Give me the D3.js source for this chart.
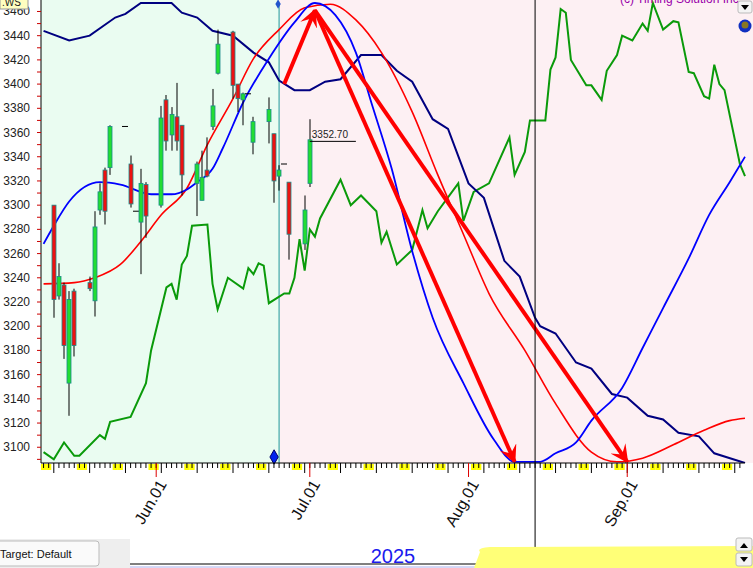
<!DOCTYPE html>
<html><head><meta charset="utf-8">
<script src="https://cdn.jsdelivr.net/npm/d3@7"></script>
<style>body{margin:0;background:#fff;overflow:hidden}svg{display:block;font-family:"Liberation Sans",Arial,sans-serif}</style>
</head><body><div id="paper"></div>
<script>
// candles: date, open, high, low, close
const candleDates = ["05-12","05-13","05-14","05-15","05-16","05-19","05-20","05-21","05-22","05-23","05-26","05-27","05-28","05-29","05-30",
  "06-02","06-03","06-04","06-05","06-06","06-09","06-10","06-11","06-12","06-13","06-16","06-17","06-18","06-19","06-20",
  "06-23","06-24","06-25","06-26","06-27","06-30","07-01"]
const opens  = [3300,3225,3234,3153,3229,3236,3221,3296,3329,3331,3365,3334,3295,3286,3317,3300,3387,3358,3373,3366,3318,3304,3329,3365,3409,3443,3400,3387,3392,3352,3369,3359,3324,3334,3319,3268,3318]
const highs  = [3300,3252,3236,3229,3231,3241,3295,3318,3331,3366,3365,3341,3295,3330,3319,3382,3391,3381,3401,3366,3336,3345,3356,3396,3445,3444,3400,3393,3392,3373,3389,3359,3333,3334,3319,3308,3371]
const lows   = [3207,3222,3173,3126,3175,3229,3208,3292,3284,3325,3365,3298,3295,3243,3273,3298,3345,3345,3345,3308,3291,3304,3323,3362,3408,3388,3377,3366,3392,3342,3351,3302,3312,3334,3255,3263,3315]
const closes = [3222,3241,3184,3222,3184,3231,3282,3311,3295,3365,3365,3301,3295,3318,3291,3372,3353,3375,3353,3325,3334,3323,3324,3382,3433,3399,3388,3392,3392,3369,3379,3320,3329,3334,3276,3296,3354]

// smooth blue curve
const blueDates = ["05-10","05-12","05-15","05-21","05-25","05-31","06-04","06-07","06-09","06-12","06-14","06-18","06-23","06-28","07-02","07-06","07-10","07-13","07-17","07-21","07-25","07-31","08-06","08-10","08-15","08-18","08-22","08-25","08-31","09-04","09-08","09-13","09-17","09-21","09-24"]
const blueVals  = [3268,3283,3303,3319,3317,3309,3309,3313,3319,3330,3347,3385,3421,3451,3467,3457,3426,3385,3330,3262,3207,3153,3106,3088,3088,3095,3104,3122,3149,3182,3215,3256,3292,3319,3340]
// smooth red curve
const redDates = ["05-10","05-16","05-20","05-25","05-29","06-02","06-07","06-11","06-16","06-20","06-25","06-30","07-05","07-10","07-15","07-21","07-26","07-31","08-05","08-12","08-18","08-25","08-30","09-04","09-10","09-16","09-21","09-24"]
const redVals  = [3235,3236,3240,3251,3270,3292,3314,3350,3388,3421,3445,3463,3466,3453,3426,3377,3325,3276,3227,3180,3136,3096,3088,3091,3102,3114,3122,3124]
// navy line
const navyDates = ["05-10","05-15","05-19","05-24","05-26","05-29","06-04","06-06","06-09","06-12","06-16","06-20","06-23","06-25","06-28","07-01","07-04","07-07","07-11","07-15","07-18","07-21","07-25","07-28","08-01","08-04","08-08","08-11","08-14","08-15","08-18","08-22","08-25","08-29","09-01","09-05","09-08","09-11","09-15","09-18","09-24"]
const navyVals  = [3444,3436,3440,3455,3458,3467,3467,3459,3455,3444,3440,3426,3418,3403,3395,3395,3402,3404,3424,3424,3411,3402,3371,3363,3318,3306,3254,3241,3207,3200,3194,3170,3165,3144,3141,3126,3123,3112,3109,3095,3087]
// green line
const greenDates = ["05-10","05-12","05-14","05-16","05-17","05-21","05-22","05-23","05-27","05-30","05-31","06-03","06-04","06-05","06-06","06-07","06-08","06-11","06-12","06-13","06-15","06-18","06-19","06-20","06-21","06-22","06-23","06-26","06-27","06-28","06-29","06-30","07-01","07-02","07-03","07-07","07-09","07-11","07-14","07-15","07-16","07-18","07-21","07-23","07-24","07-26","07-30","07-31","08-02","08-05","08-09","08-10","08-12","08-13","08-16","08-17","08-18","08-19","08-20","08-21","08-24","08-25","08-27","08-28","08-30","08-31","09-02","09-04","09-05","09-06","09-08","09-10","09-11","09-13","09-14","09-16","09-17","09-18","09-19","09-20","09-23","09-24"]
const greenVals  = [3096,3090,3104,3093,3093,3110,3107,3121,3125,3153,3180,3232,3235,3222,3251,3258,3283,3284,3235,3214,3240,3231,3248,3243,3252,3250,3219,3227,3227,3240,3272,3246,3280,3274,3289,3321,3300,3308,3295,3269,3278,3251,3263,3296,3281,3295,3318,3287,3311,3318,3356,3325,3344,3370,3370,3412,3422,3462,3459,3420,3399,3399,3387,3411,3424,3440,3436,3450,3444,3467,3445,3452,3451,3410,3409,3390,3388,3416,3400,3395,3334,3324]

// arrows: from -> to
const arrows = [["06-26",3400,"07-02",3461],["07-02",3461,"08-10",3088],["07-02",3461,"09-01",3088]]
const yTicks = d3.range(3100, 3461, 20)
const monthTicks = ["06-01","07-01","08-01","09-01"]
const monthLabels = ["Jun.01","Jul.01","Aug.01","Sep.01"]

const pd = s => new Date("2025-" + s + "T12:00:00")
const W = 753, H = 568
const L = 41, R = 745, T = 0, B = 463

const svg = d3.select("#paper").append("svg").attr("width", W).attr("height", H)
const x = d3.scaleTime().domain([new Date("2025-05-10T00:00:00"), new Date("2025-09-24T12:00:00")]).range([L, R])
const y = d3.scaleLinear().domain([3087, 3467]).range([B, 3])

// backgrounds
const sepX = x(pd("06-25"))
svg.append("rect").attr("x", L).attr("y", 0).attr("width", sepX - L).attr("height", B).attr("fill", "#eafcf1")
svg.append("rect").attr("x", sepX).attr("y", 0).attr("width", W - sepX).attr("height", B).attr("fill", "#fdf0f3")

svg.append("clipPath").attr("id", "clip").append("rect").attr("x", L).attr("y", 0).attr("width", W - L).attr("height", B)
const g = svg.append("g").attr("clip-path", "url(#clip)")

// separator
g.append("line").attr("x1", sepX).attr("x2", sepX).attr("y1", 4).attr("y2", B).attr("stroke", "#1a9a9a").attr("stroke-width", 1)

function drawLine(dates, vals, color, w, curve) {
  g.append("path").datum(dates.map((d, i) => [x(pd(d)), y(vals[i])]))
    .attr("d", d3.line().curve(curve)).attr("fill", "none").attr("stroke", color).attr("stroke-width", w)
}
drawLine(greenDates, greenVals, "#0a9a0a", 2, d3.curveLinear)
drawLine(navyDates, navyVals, "#000080", 2, d3.curveLinear)
drawLine(redDates, redVals, "#ff0000", 1.6, d3.curveMonotoneX)
drawLine(blueDates, blueVals, "#0000ff", 1.8, d3.curveMonotoneX)

// candles
candleDates.forEach((d, i) => {
  const cx = Math.round(x(pd(d)))
  g.append("line").attr("x1", cx).attr("x2", cx).attr("y1", y(highs[i])).attr("y2", y(lows[i])).attr("stroke", "#000").attr("stroke-width", 1)
  const top = y(Math.max(opens[i], closes[i])), bot = y(Math.min(opens[i], closes[i]))
  if (bot - top < 1) {
    g.append("line").attr("x1", cx - 3).attr("x2", cx + 3).attr("y1", top).attr("y2", top).attr("stroke", "#000")
  } else {
    g.append("rect").attr("x", cx - 2).attr("y", top).attr("width", 4).attr("height", bot - top)
      .attr("fill", closes[i] >= opens[i] ? "#22dd33" : "#ee1111").attr("stroke", "#1a8a8a").attr("stroke-width", 0.8)
  }
})

// price label
g.append("line").attr("x1", x(pd("07-01"))).attr("x2", x(pd("07-10"))).attr("y1", y(3352.7)).attr("y2", y(3352.7)).attr("stroke", "#000")
g.append("text").attr("x", x(pd("07-01")) + 2).attr("y", y(3352.7) - 3).attr("font-size", 10).attr("fill", "#222").text("3352.70")

// arrows
const defs = svg.append("defs")
defs.append("marker").attr("id", "ah").attr("viewBox", "0 0 10 10").attr("refX", 9).attr("refY", 5)
  .attr("markerWidth", 4.5).attr("markerHeight", 4.5).attr("orient", "auto")
  .append("path").attr("d", "M0,0 L10,5 L0,10 L4,5 Z").attr("fill", "#ff0000")
arrows.forEach(a => {
  g.append("line").attr("x1", x(pd(a[0]))).attr("y1", y(a[1])).attr("x2", x(pd(a[2]))).attr("y2", y(a[3]))
    .attr("stroke", "#ff0000").attr("stroke-width", 4).attr("marker-end", "url(#ah)")
})

// diamonds
svg.append("path").attr("d", d3.symbol(d3.symbolDiamond, 60)()).attr("transform", `translate(${sepX - 5},${B - 6})`).attr("fill", "#0022ee").attr("stroke", "#000066")
svg.append("path").attr("d", d3.symbol(d3.symbolDiamond, 25)()).attr("transform", `translate(${sepX - 1},4)`).attr("fill", "#2255cc")

// vertical black line
const vx = x(pd("08-14"))
svg.append("line").attr("x1", vx).attr("x2", vx).attr("y1", 0).attr("y2", H).attr("stroke", "#000").attr("stroke-width", 1)

// y axis
svg.append("line").attr("x1", L).attr("x2", L).attr("y1", 0).attr("y2", B).attr("stroke", "#000")
d3.range(3090, 3461, 10).forEach(v => {
  svg.append("line").attr("x1", L - 4).attr("x2", L).attr("y1", y(v)).attr("y2", y(v)).attr("stroke", "#cc0000")
})
yTicks.forEach(v => {
  svg.append("text").attr("x", 30).attr("y", y(v) + 4).attr("text-anchor", "end").attr("font-size", 12).attr("fill", "#222").text(v)
})

// x axis
svg.append("line").attr("x1", L).attr("x2", R).attr("y1", B).attr("y2", B).attr("stroke", "#000")
d3.timeDay.range(new Date("2025-05-10T00:00:00"), new Date("2025-09-24T00:00:00")).forEach(d => {
  const dx = x(d3.timeHour.offset(d, 12))
  const wd = d.getDay()
  if (wd === 0 || wd === 6) {
    svg.append("rect").attr("x", dx - 2.6).attr("y", B + 1).attr("width", 5.2).attr("height", 6).attr("fill", "#ffff00")
  }
  svg.append("line").attr("x1", dx).attr("x2", dx).attr("y1", B).attr("y2", B + (wd === 1 ? 10 : 5)).attr("stroke", "#000")
})
monthTicks.forEach((m, i) => {
  const mx = x(pd(m))
  svg.append("line").attr("x1", mx).attr("x2", mx).attr("y1", B).attr("y2", B + 14).attr("stroke", "#dd0000")
  svg.append("text").attr("transform", `translate(${mx + 11},${B + 21}) rotate(-60)`).attr("text-anchor", "end")
    .attr("font-size", 16).attr("fill", "#111").text(monthLabels[i])
})

// chrome
svg.append("rect").attr("x", 0).attr("y", -2).attr("width", 28).attr("height", 11).attr("fill", "#ffffc0").attr("stroke", "#999")
svg.append("text").attr("x", 2).attr("y", 6).attr("font-size", 10).attr("fill", "#222").text(".WS")
svg.append("text").attr("x", 620).attr("y", 3).attr("font-size", 12).attr("fill", "#9900aa").text("(c) Timing Solution Inc.")
svg.append("rect").attr("x", 738).attr("y", 1).attr("width", 14).attr("height", 12).attr("fill", "#f4f4f4").attr("stroke", "#bbb").attr("rx", 2)
svg.append("path").attr("d", "M741,5 L749,5 L745,10 Z").attr("fill", "#000")
svg.append("circle").attr("cx", 745).attr("cy", 26).attr("r", 6.5).attr("fill", "#1030c0")
svg.append("circle").attr("cx", 745).attr("cy", 25).attr("r", 3.5).attr("fill", "#887722")

svg.append("rect").attr("x", 0).attr("y", 539).attr("width", 130).attr("height", 29).attr("fill", "#eeeeee")
svg.append("rect").attr("x", -3).attr("y", 541).attr("width", 102).attr("height", 25).attr("fill", "#fafafa").attr("stroke", "#bbb").attr("rx", 3)
svg.append("text").attr("x", 0).attr("y", 558).attr("font-size", 11).attr("fill", "#111").text("Target: Default")
svg.append("line").attr("x1", 130).attr("x2", 480).attr("y1", 564).attr("y2", 564).attr("stroke", "#000")
svg.append("line").attr("x1", 130).attr("x2", 480).attr("y1", 567).attr("y2", 567).attr("stroke", "#aab0ee")
svg.append("text").attr("x", 393).attr("y", 563).attr("text-anchor", "middle").attr("font-size", 20).attr("fill", "#1a1aee").text("2025")
svg.append("path").attr("d", "M480,552 Q476,548 490,547 L753,546 L753,568 L474,568 Z").attr("fill", "#ffff77")
svg.append("rect").attr("x", 736).attr("y", 538).attr("width", 16).attr("height", 13).attr("fill", "#f4f4f4").attr("stroke", "#bbb").attr("rx", 2)
svg.append("path").attr("d", "M740,548 L748,548 L744,543 Z").attr("fill", "#000")
svg.append("rect").attr("x", 736).attr("y", 553).attr("width", 16).attr("height", 13).attr("fill", "#f4f4f4").attr("stroke", "#bbb").attr("rx", 2)
svg.append("path").attr("d", "M740,557 L748,557 L744,562 Z").attr("fill", "#000")
</script></body></html>
